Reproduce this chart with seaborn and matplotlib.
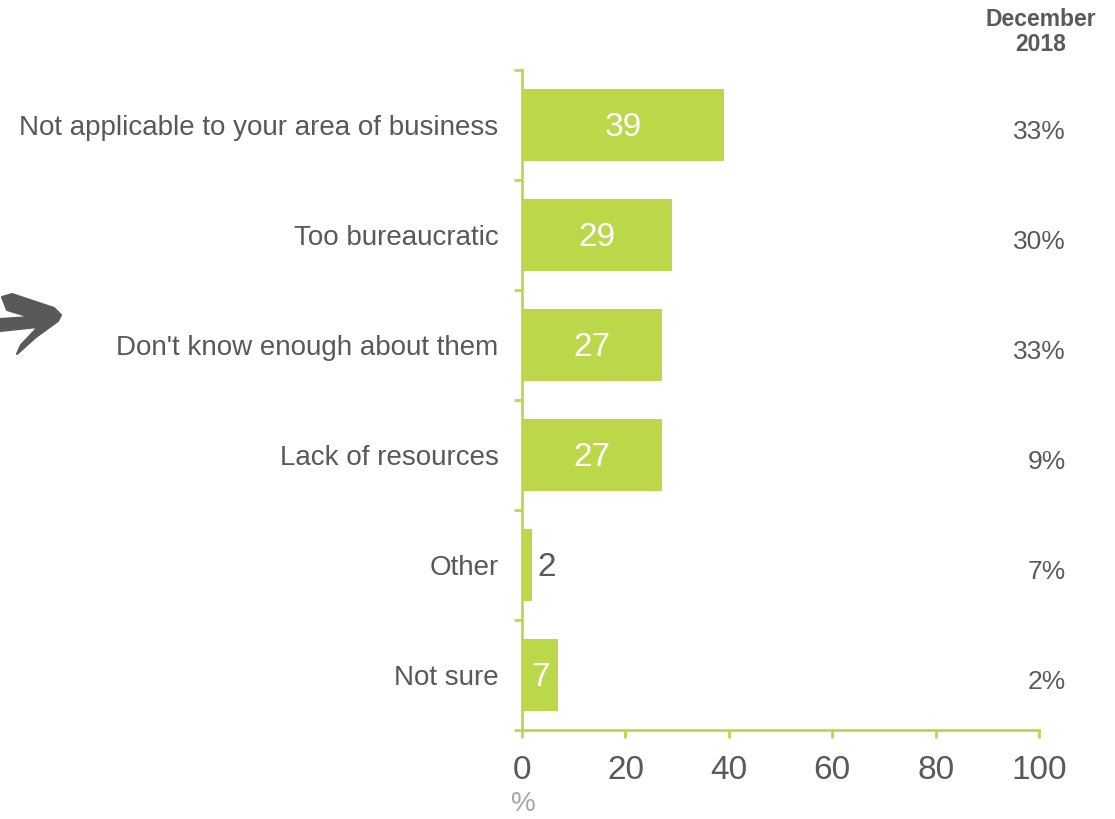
import matplotlib
matplotlib.use("Agg")
import matplotlib.pyplot as plt
import matplotlib.transforms as mtransforms
from matplotlib.patches import Polygon
import numpy as np
import pandas as pd
import seaborn as sns

# Reasons and current survey shares (%)
reasons = [
    "Not applicable to your area of business",
    "Too bureaucratic",
    "Don't know enough about them",
    "Lack of resources",
    "Other",
    "Not sure",
]
values = [39, 29, 27, 27, 2, 7]

# Comparison column (December 2018)
dec2018_labels = ["33%", "30%", "33%", "9%", "7%", "2%"]
dec2018_header = "December\n2018"

x_ticks = [0, 20, 40, 60, 80, 100]

GREEN = "#BDD74B"
GREY = "#595959"
LIGHT_GREY = "#A6A6A6"

sns.set_theme(style="white")
plt.rcParams["font.family"] = ["Liberation Sans", "DejaVu Sans"]

df = pd.DataFrame({"reason": reasons, "value": values})

fig = plt.figure(figsize=(11.15, 8.19), dpi=100)
ax = fig.add_axes([522 / 1115, 1 - 730 / 819, (1039 - 522) / 1115, (730 - 70) / 819])

sns.barplot(data=df, x="value", y="reason", orient="h", color=GREEN,
            saturation=1, width=0.65, ax=ax, edgecolor="none")

n = len(reasons)
ax.set_xlim(0, 100)
ax.set_ylim(n - 0.5, -0.5)
ax.set_xlabel("")
ax.set_ylabel("")

# Spines
for side in ("top", "right"):
    ax.spines[side].set_visible(False)
for side in ("left", "bottom"):
    ax.spines[side].set_color(GREEN)
    ax.spines[side].set_linewidth(2)

# X ticks
ax.set_xticks(x_ticks)
ax.set_xticklabels([str(t) for t in x_ticks])
ax.tick_params(axis="x", which="major", direction="out", length=6, width=2,
               color=GREEN, labelsize=24, labelcolor=GREY, pad=12, bottom=True)

# Y: category labels at centres, boundary ticks as minor ticks
ax.set_yticks(np.arange(n))
ax.set_yticklabels(reasons)
ax.tick_params(axis="y", which="major", length=0, labelsize=20,
               labelcolor=GREY, pad=17)
ax.set_yticks(np.arange(-0.5, n, 1.0), minor=True)
ax.tick_params(axis="y", which="minor", direction="out", length=6, width=2,
               color=GREEN, left=True)

# Value labels on bars
for i, v in enumerate(values):
    if v >= 5:
        ax.text(v / 2, i + 0.02, str(v), ha="center", va="center",
                color="white", fontsize=24)
    else:
        ax.text(v + 0.9, i + 0.02, str(v), ha="left", va="center",
                color=GREY, fontsize=24)

# Comparison column on the right
trans = mtransforms.blended_transform_factory(fig.transFigure, ax.transData)
for i, lab in enumerate(dec2018_labels):
    ax.text(1066 / 1115, i + 0.06, lab, transform=trans, ha="right",
            va="center", color=GREY, fontsize=19, clip_on=False)

fig.text(1041 / 1115, 1 - 32 / 819, dec2018_header, ha="center", va="center",
         fontsize=16.5, fontweight="bold", color=GREY, linespacing=1.15)

# Unit label under the axis
fig.text(523 / 1115, 1 - 804 / 819, "%", ha="center", va="center",
         fontsize=20, color=LIGHT_GREY)

# Hand-drawn pointer arrow at the left edge
arrow_px = [
    (2, 297), (12, 294), (54, 308), (61, 315), (58, 321), (36, 337),
    (17, 354), (21, 345), (38, 327), (0, 331), (0, 319), (30, 317),
    (7, 310),
]
arrow = Polygon([(x / 1115, 1 - y / 819) for x, y in arrow_px], closed=True,
                transform=fig.transFigure, facecolor=GREY, edgecolor=GREY,
                linewidth=1.5, joinstyle="round")
fig.patches.append(arrow)

fig.savefig("out.png", dpi=100)
